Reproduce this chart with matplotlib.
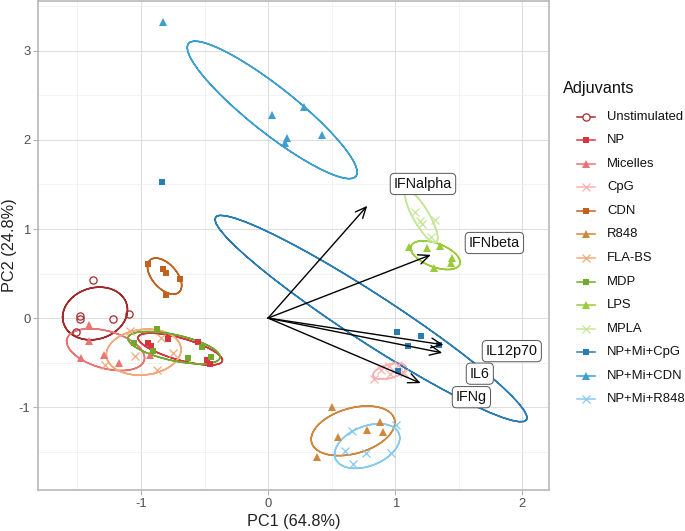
import numpy as np
import matplotlib
matplotlib.use("Agg")
import matplotlib.pyplot as plt
from matplotlib.lines import Line2D

plt.rcParams['font.family'] = ['Liberation Sans', 'DejaVu Sans']
plt.rcParams['axes.unicode_minus'] = False

# ---------------- data ----------------
groups = ["Unstimulated", "NP", "Micelles", "CpG", "CDN", "R848", "FLA-BS",
          "MDP", "LPS", "MPLA", "NP+Mi+CpG", "NP+Mi+CDN", "NP+Mi+R848"]

pc1_unstim = [-1.380, -1.480, -1.480, -1.223, -1.092, -1.512]
pc2_unstim = [0.427, 0.022, -0.015, -0.015, 0.042, -0.152]
pc1_np = [-0.941, -0.921, -0.790, -0.554, -0.483, -0.457]
pc2_np = [-0.275, -0.315, -0.239, -0.266, -0.472, -0.520]
pc1_micelles = [-1.407, -1.407, -1.470, -1.289, -1.171, -0.925]
pc2_micelles = [-0.082, -0.262, -0.453, -0.416, -0.502, -0.410]
pc1_cpg = [0.835, 0.890, 0.953, 1.024, 1.071, 0.961]
pc2_cpg = [-0.685, -0.584, -0.539, -0.528, -0.618, -0.629]
pc1_cdn = [-0.943, -0.829, -0.803, -0.693, -0.803]
pc2_cdn = [0.607, 0.547, 0.506, 0.438, 0.258]
pc1_r848 = [0.502, 0.554, 0.383, 0.882, 0.782, 0.908]
pc2_r848 = [-1.003, -1.340, -1.558, -1.165, -1.251, -1.278]
pc1_flabs = [-1.083, -0.839, -1.047, -0.750, -0.872, -1.280]
pc2_flabs = [-0.140, -0.225, -0.430, -0.393, -0.584, -0.522]
pc1_mdp = [-0.876, -1.053, -0.908, -0.522, -0.628, -0.451]
pc2_mdp = [-0.127, -0.278, -0.367, -0.329, -0.453, -0.438]
pc1_lps = [1.105, 1.250, 1.354, 1.446, 1.441, 1.302]
pc2_lps = [0.794, 0.790, 0.809, 0.671, 0.615, 0.558]
pc1_mpla = [1.079, 1.157, 1.197, 1.210, 1.315, 1.281]
pc2_mpla = [1.483, 1.194, 1.090, 1.056, 1.101, 0.907]
pc1_npmicpg = [1.018, 1.205, 1.100, 1.344, 1.021, -0.832]
pc2_npmicpg = [-0.154, -0.199, -0.311, -0.307, -0.592, 1.531]
pc1_npmicdn = [-0.829, 0.286, 0.034, 0.147, 0.134, 0.423]
pc2_npmicdn = [3.329, 2.374, 2.281, 2.019, 1.963, 2.056]
pc1_npmir848 = [0.659, 1.008, 0.606, 0.772, 0.966, 0.667]
pc2_npmir848 = [-1.266, -1.202, -1.494, -1.513, -1.513, -1.633]

pc1 = [pc1_unstim, pc1_np, pc1_micelles, pc1_cpg, pc1_cdn, pc1_r848, pc1_flabs,
       pc1_mdp, pc1_lps, pc1_mpla, pc1_npmicpg, pc1_npmicdn, pc1_npmir848]
pc2 = [pc2_unstim, pc2_np, pc2_micelles, pc2_cpg, pc2_cdn, pc2_r848, pc2_flabs,
       pc2_mdp, pc2_lps, pc2_mpla, pc2_npmicpg, pc2_npmicdn, pc2_npmir848]

colors = ["#A32A2A", "#D8343E", "#E97474", "#FFB0B0", "#C2611D", "#CF873C", "#F3A97B",
          "#73A92B", "#9ACB38", "#C6E79A", "#2A7DB3", "#3C9FCF", "#86CAEE"]
markers = ["o", "s", "^", "x", "s", "^", "x", "s", "^", "x", "s", "^", "x"]

loading_names = ["IFNalpha", "IFNbeta", "IL12p70", "IL6", "IFNg"]
loading_x = [0.78, 1.28, 1.38, 1.37, 1.20]
loading_y = [1.26, 0.71, -0.30, -0.39, -0.73]
label_x = [0.961, 1.551, 1.685, 1.559, 1.449]
label_y = [1.506, 0.843, -0.371, -0.624, -0.888]

xlabel = "PC1 (64.8%)"
ylabel = "PC2 (24.8%)"
legend_title = "Adjuvants"
ellipse_prob = 0.68


# ---------------- helpers ----------------
def ellipse_path(x, y, prob=0.68, npts=50):
    X = np.column_stack([x, y])
    mu = X.mean(axis=0)
    sigma = np.cov(X, rowvar=False)
    ed = np.sqrt(-2.0 * np.log(1.0 - prob))  # sqrt(qchisq(prob, df=2))
    theta = np.concatenate([np.linspace(-np.pi, np.pi, npts),
                            np.linspace(np.pi, -np.pi, npts)])
    circ = np.column_stack([np.cos(theta), np.sin(theta)])
    R = np.linalg.cholesky(sigma).T
    e = circ @ R * ed + mu
    return e[:, 0], e[:, 1]


# ---------------- figure ----------------
W, H = 685, 531
fig = plt.figure(figsize=(W / 100, H / 100), dpi=100)
ax = fig.add_axes([38 / W, 1 - 490 / H, (549 - 38) / W, (490 - 1) / H])

ax.set_xlim(-1.81, 2.21)
ax.set_ylim(-1.93, 3.56)
ax.set_xticks([-1, 0, 1, 2])
ax.set_yticks([-1, 0, 1, 2, 3])
ax.set_xticks([-1.5, -0.5, 0.5, 1.5], minor=True)
ax.set_yticks([-1.5, -0.5, 0.5, 1.5, 2.5, 3.5], minor=True)
ax.grid(which='major', color='#DEDEDE', linewidth=0.75)
ax.grid(which='minor', color='#EEEEEE', linewidth=0.5)
ax.set_axisbelow(True)
for s in ax.spines.values():
    s.set_color('#B3B3B3')
    s.set_linewidth(1.1)
ax.tick_params(which='major', length=3.5, color='#B3B3B3', width=0.8,
               labelsize=9.4, labelcolor='#4D4D4D', pad=2)
ax.tick_params(which='minor', length=0)
ax.set_xlabel(xlabel, fontsize=11.7, color='#222222', labelpad=3)

for xs, ys, c, m in zip(pc1, pc2, colors, markers):
    ex, ey = ellipse_path(xs, ys, ellipse_prob)
    ax.plot(ex, ey, color=c, linewidth=1.1, zorder=2)
    if m == 'o':
        ax.plot(xs, ys, linestyle='none', marker='o', markersize=5.2,
                markerfacecolor='none', markeredgecolor=c, markeredgewidth=0.9, zorder=3)
    elif m == 'x':
        ax.plot(xs, ys, linestyle='none', marker='x', markersize=5.2,
                color=c, markeredgewidth=0.9, zorder=3)
    elif m == 's':
        ax.plot(xs, ys, linestyle='none', marker='s', markersize=4.6,
                color=c, markeredgewidth=0, zorder=3)
    else:
        ax.plot(xs, ys, linestyle='none', marker='^', markersize=5.4,
                color=c, markeredgewidth=0, zorder=3)

for lx, ly in zip(loading_x, loading_y):
    ax.annotate('', xy=(lx, ly), xytext=(0, 0),
                arrowprops=dict(arrowstyle='->,head_length=0.55,head_width=0.25',
                                color='black', lw=1.0, shrinkA=0, shrinkB=0,
                                mutation_scale=14), zorder=4)

for name, tx, ty in zip(loading_names, label_x, label_y):
    ax.annotate(name, xy=(tx, ty), xytext=(2.6, 0), textcoords='offset points',
                ha='left', va='center', fontsize=10.4, color='#111111', zorder=5,
                bbox=dict(boxstyle='round,pad=0.25,rounding_size=0.3',
                          facecolor='white', edgecolor='#555555', linewidth=0.7))

# legend and y title drawn in figure pixel coordinates
def fx(px):
    return px / W

def fy(py):
    return 1 - py / H

fig.text(fx(10), fy(245.5), ylabel, rotation=90, fontsize=11.7, color='#222222',
         ha='center', va='center')

fig.text(fx(563), fy(89), legend_title, fontsize=11.7, color='#111111',
         ha='left', va='center')
for i, (g, c, m) in enumerate(zip(groups, colors, markers)):
    yy = fy(116.7 + i * 23.55)
    fig.add_artist(Line2D([fx(577), fx(595)], [yy, yy], color=c, linewidth=1.1,
                          transform=fig.transFigure))
    if m == 'o':
        fig.add_artist(Line2D([fx(586)], [yy], marker='o', markersize=5.2,
                              markerfacecolor='white', markeredgecolor=c,
                              markeredgewidth=0.9, transform=fig.transFigure))
    elif m == 'x':
        fig.add_artist(Line2D([fx(586)], [yy], marker='x', markersize=5.2,
                              color=c, markeredgewidth=0.9, transform=fig.transFigure))
    elif m == 's':
        fig.add_artist(Line2D([fx(586)], [yy], marker='s', markersize=4.6,
                              color=c, markeredgewidth=0, transform=fig.transFigure))
    else:
        fig.add_artist(Line2D([fx(586)], [yy], marker='^', markersize=5.4,
                              color=c, markeredgewidth=0, transform=fig.transFigure))
    fig.text(fx(607), yy, g, fontsize=9.4, color='#111111', ha='left', va='center')

fig.savefig("out.png", dpi=100)
